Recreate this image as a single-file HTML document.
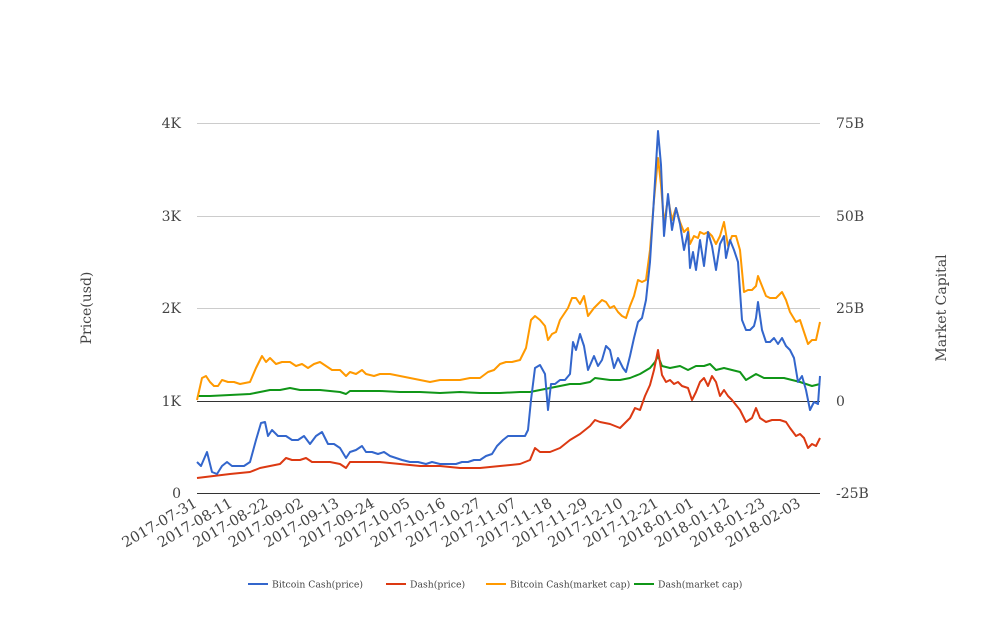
<!DOCTYPE html>
<html><head><meta charset="utf-8"><style>
body{margin:0;background:#fff}
svg text{font-family:"DejaVu Serif","Liberation Serif",serif;fill:#444}
</style></head><body>
<svg width="1008" height="616" viewBox="0 0 1008 616" xmlns="http://www.w3.org/2000/svg">
<g stroke="#ccc" stroke-width="1">
<line x1="197" y1="123.5" x2="820" y2="123.5"/>
<line x1="197" y1="216.5" x2="820" y2="216.5"/>
<line x1="197" y1="308.5" x2="820" y2="308.5"/>
</g>
<line x1="197" y1="401.5" x2="820" y2="401.5" stroke="#333"/>
<line x1="197" y1="493.5" x2="820" y2="493.5" stroke="#333"/>
<g font-size="14" text-anchor="end">
<text x="181" y="128">4K</text><text x="181" y="221">3K</text><text x="181" y="313">2K</text><text x="181" y="406">1K</text><text x="181" y="498">0</text>
</g>
<g font-size="14">
<text x="836" y="128">75B</text><text x="836" y="221">50B</text><text x="836" y="313">25B</text><text x="836" y="406">0</text><text x="836" y="498">-25B</text>
</g>
<text font-size="14" text-anchor="middle" transform="translate(91,308) rotate(-90)">Price(usd)</text>
<text font-size="14" text-anchor="middle" transform="translate(946,308) rotate(-90)">Market Capital</text>
<g font-size="14.5" text-anchor="end">
<text transform="translate(198,506) rotate(-30)">2017-07-31</text>
<text transform="translate(233.5,506) rotate(-30)">2017-08-11</text>
<text transform="translate(269,506) rotate(-30)">2017-08-22</text>
<text transform="translate(304.5,506) rotate(-30)">2017-09-02</text>
<text transform="translate(340,506) rotate(-30)">2017-09-13</text>
<text transform="translate(375.5,506) rotate(-30)">2017-09-24</text>
<text transform="translate(411,506) rotate(-30)">2017-10-05</text>
<text transform="translate(446.5,506) rotate(-30)">2017-10-16</text>
<text transform="translate(482,506) rotate(-30)">2017-10-27</text>
<text transform="translate(517.5,506) rotate(-30)">2017-11-07</text>
<text transform="translate(553,506) rotate(-30)">2017-11-18</text>
<text transform="translate(588.5,506) rotate(-30)">2017-11-29</text>
<text transform="translate(624,506) rotate(-30)">2017-12-10</text>
<text transform="translate(659.5,506) rotate(-30)">2017-12-21</text>
<text transform="translate(695,506) rotate(-30)">2018-01-01</text>
<text transform="translate(730.5,506) rotate(-30)">2018-01-12</text>
<text transform="translate(766,506) rotate(-30)">2018-01-23</text>
<text transform="translate(801.5,506) rotate(-30)">2018-02-03</text>
</g>
<g fill="none" stroke-width="2" stroke-linejoin="round">
<polyline stroke="#109618" points="197,396 210,396 230,395 250,394 260,392 270,390 280,390 290,388 300,390 320,390 340,392 346,394 350,391 380,391 400,392 420,392 440,393 460,392 480,393 500,393 520,392 530,392 540,390 550,388 560,386 570,384 580,384 590,382 595,378 610,380 620,380 630,378 640,374 650,368 655,362 658,356 662,366 670,368 680,366 688,370 696,366 704,366 710,364 716,370 724,368 732,370 740,372 746,380 756,374 764,378 774,378 784,378 792,380 800,382 806,384 812,386 820,384"/>
<polyline stroke="#ff9900" points="197,400 202,378 206,376 210,382 214,386 218,386 222,380 228,382 234,382 240,384 250,382 256,368 262,356 266,362 270,358 276,364 282,362 290,362 296,366 302,364 308,368 314,364 320,362 326,366 332,370 340,370 346,376 350,372 356,374 362,370 366,374 374,376 380,374 390,374 400,376 410,378 420,380 430,382 440,380 450,380 460,380 470,378 480,378 488,372 494,370 500,364 506,362 512,362 520,360 526,348 531,320 535,316 540,320 545,326 548,340 552,334 556,332 560,320 564,314 568,308 572,298 576,298 580,304 584,296 588,316 594,308 598,304 602,300 606,302 610,308 614,306 618,312 622,316 626,318 630,306 634,296 638,280 642,282 646,280 650,250 654,200 658,158 661,185 664,224 668,198 672,220 676,208 680,222 684,232 688,228 690,244 694,236 698,238 700,232 704,234 708,232 712,236 716,244 720,236 724,222 728,246 732,236 736,236 740,250 744,292 748,290 752,290 756,286 758,276 762,286 766,296 770,298 776,298 782,292 786,300 790,312 796,322 800,320 804,332 808,344 812,340 816,340 820,322"/>
<polyline stroke="#dc3912" points="197,478 230,474 250,472 260,468 270,466 280,464 286,458 292,460 300,460 306,458 312,462 320,462 330,462 340,464 346,468 350,462 360,462 370,462 380,462 400,464 420,466 440,466 460,468 480,468 500,466 520,464 530,460 535,448 540,452 550,452 560,448 570,440 580,434 590,426 595,420 600,422 610,424 620,428 630,418 635,408 640,410 645,396 650,385 654,370 658,350 662,375 666,382 670,380 674,384 678,382 682,386 688,388 692,400 696,392 700,382 704,378 708,386 712,376 716,382 720,396 724,390 728,396 732,400 740,410 746,422 752,418 756,408 760,418 766,422 772,420 780,420 786,422 790,428 796,436 800,434 804,438 808,448 812,444 816,446 820,438"/>
<polyline stroke="#3366cc" points="197,462 201,466 207,452 212,472 217,474 222,466 227,462 232,466 238,466 244,466 250,462 256,440 261,423 265,422 268,436 272,430 278,436 286,436 292,440 298,440 304,436 310,444 316,436 322,432 328,444 334,444 340,448 346,458 350,452 356,450 362,446 366,452 372,452 378,454 384,452 390,456 396,458 402,460 410,462 418,462 426,464 432,462 440,464 448,464 456,464 462,462 468,462 474,460 480,460 486,456 492,454 497,446 503,440 508,436 514,436 520,436 525,436 528,430 531,400 535,368 540,365 545,374 548,410 551,384 555,384 560,380 565,380 570,374 573,342 576,350 580,334 584,346 588,370 594,356 598,366 602,360 606,346 610,350 614,368 618,358 623,368 626,372 630,356 634,338 638,322 642,318 646,300 650,262 654,198 658,131 661,165 664,236 668,194 672,230 676,208 680,224 684,250 688,232 690,268 693,252 696,270 700,240 704,266 708,232 712,246 716,270 720,244 724,236 726,258 730,240 734,250 738,262 742,320 746,330 750,330 754,326 756,318 758,302 762,330 766,342 770,342 774,338 778,344 782,338 786,346 790,350 794,358 798,382 802,376 806,390 810,410 814,402 818,404 820,376"/>
</g>
<g font-size="9.3">
<line x1="248" y1="584" x2="268" y2="584" stroke="#3366cc" stroke-width="2"/><text x="272" y="587.5">Bitcoin Cash(price)</text>
<line x1="386" y1="584" x2="406" y2="584" stroke="#dc3912" stroke-width="2"/><text x="410" y="587.5">Dash(price)</text>
<line x1="486" y1="584" x2="506" y2="584" stroke="#ff9900" stroke-width="2"/><text x="510" y="587.5">Bitcoin Cash(market cap)</text>
<line x1="634" y1="584" x2="654" y2="584" stroke="#109618" stroke-width="2"/><text x="658" y="587.5">Dash(market cap)</text>
</g>
</svg>
</body></html>
